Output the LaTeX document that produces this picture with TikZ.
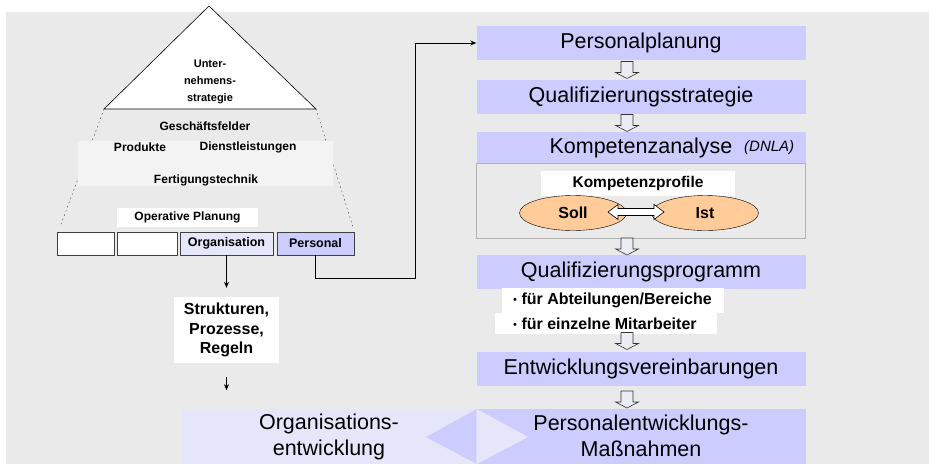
\documentclass[tikz,border=0pt]{standalone}
\usepackage{fontspec}
\setmainfont{Liberation Sans}
\usetikzlibrary{shapes.geometric,arrows.meta,positioning}
\definecolor{bggray}{HTML}{EAEAEA}
\definecolor{bandgray}{HTML}{F3F3F3}
\definecolor{lav}{HTML}{CCCCFF}
\definecolor{lightlav}{HTML}{E6E6FA}
\definecolor{peach}{HTML}{FFCC99}
\definecolor{arrowfill}{HTML}{ECECF4}
\newcommand{\hollowdown}[1]{\draw[hollow arrow,shift={(#1)}] (-6,-8.5) -- (6,-8.5) -- (6,2.5) -- (11.5,2.5) -- (0,8.5) -- (-11.5,2.5) -- (-6,2.5) -- cycle;}
\newcommand{\smallbullet}{{\fontsize{11}{12}\selectfont\mdseries\raisebox{1pt}{•}}}
\begin{document}
\begin{tikzpicture}[x=1pt,y=-1pt]
\tikzstyle{small label}=[font=\fontsize{12}{14}\selectfont\bfseries,inner sep=0]
\tikzstyle{mid label}=[font=\fontsize{16}{19.5}\selectfont\bfseries,inner sep=0]
\tikzstyle{big label}=[font=\fontsize{21.5}{26}\selectfont,inner sep=0,align=center]
\tikzset{
	plan box/.style={rectangle,fill=lav,minimum width=329pt,minimum height=34pt,inner sep=0,font=\fontsize{21.5}{26}\selectfont},
	unit box/.style={rectangle,draw=black!75,line width=0.8pt,minimum width=#1,minimum height=23pt,inner sep=0,font=\fontsize{12.5}{14}\selectfont\bfseries},
	white box/.style={rectangle,fill=white,inner sep=0},
	soll ist/.style={ellipse,draw,fill=peach,minimum width=107pt,minimum height=35pt,inner sep=0,font=\fontsize{16}{18}\selectfont\bfseries},
	con/.style={line width=0.8pt,-{Stealth[length=6pt,width=5pt]}},
	hollow arrow/.style={draw=black!80,fill=arrowfill,line width=0.6pt}
}
\useasboundingbox (0,0) rectangle (929,464);
\fill[bggray] (6,12) rectangle (929,464);

% pyramid
\coordinate (apex) at (209,6);
\coordinate (base left) at (104,109);
\coordinate (base right) at (316,109);
\draw[fill=white,line width=0.6pt] (apex) -- (base right) -- (base left) -- cycle;
\node[small label,font=\fontsize{11}{17}\selectfont\bfseries,align=center] (strategy) at (210,82) {Unter-\\nehmens-\\strategie};
\coordinate (foot left) at (60,227);
\coordinate (foot right) at (353,227);
\draw[black!80,dash pattern=on 1.5pt off 3pt] (base left) -- (foot left);
\draw[black!80,dash pattern=on 1.5pt off 3pt] (base right) -- (foot right);
\fill[bandgray] (78,141) rectangle (333,186);
\node[small label] (fields) at (205,126) {Geschäftsfelder};
\node[small label] (products) at (140,147) {Produkte};
\node[small label] (services) at (248,147) {Dienstleistungen};
\node[small label] (technics) at (206,180) {Fertigungstechnik};
\node[white box,small label,minimum width=141pt,minimum height=19pt] (operative) at (187.5,217.5) {Operative Planung};

% operative units
\node[unit box=57pt,fill=white] (unit1) at (85.5,243.5) {};
\node[unit box=60pt,fill=white] (unit2) at (147,243.5) {};
\node[unit box=93pt,fill=lightlav] (org) at (226.5,243.5) {Organisation};
\node[unit box=77pt,fill=lav] (pers) at (315.5,243.5) {Personal};
\node[white box,mid label,align=center,minimum width=105pt,minimum height=66pt] (struct) at (226.5,330) {Strukturen,\\Prozesse,\\Regeln};
\draw[con,shorten >=9pt] (org.south) -- (org.south |- struct.north);
\draw[con] (struct.south) ++(0,14) -- ++(0,13);

% right column
\node[plan box] (pplan) at (641,43) {Personalplanung};
\node[plan box] (qstrat) at (641,97) {Qualifizierungsstrategie};
\node[rectangle,draw=black!30,fill=bggray,minimum width=329pt,minimum height=75pt] (kbox) at (641,200.5) {};
\node[plan box,minimum height=31pt] (kanal) at (641,147.5) {Kompetenzanalyse};
\node[inner sep=0,anchor=west,font=\fontsize{15}{17}\selectfont\itshape] (dnla) at (744,148) {(DNLA)};
\node[white box,mid label,font=\fontsize{15.5}{18}\selectfont\bfseries,minimum width=194pt,minimum height=25pt] (profile) at (638,183.5) {Kompetenzprofile};
\node[soll ist] (soll) at (573,213) {Soll};
\node[soll ist] (ist) at (705,213) {Ist};
\coordinate (tip soll) at (608,212);
\coordinate (tip ist) at (664,212);
\draw[fill=white,line width=0.6pt] (tip soll) -- ++(10,-7.5) -- ++(0,4) -- ++(36,0) -- ++(0,-4) -- (tip ist)
	-- ++(-10,7.5) -- ++(0,-4) -- ++(-36,0) -- ++(0,4) -- cycle;
\node[plan box] (qprog) at (641,272) {Qualifizierungsprogramm};
\node[white box,minimum width=222pt,minimum height=25pt,anchor=north west] (dept) at (502,288) {};
\node[white box,minimum width=222pt,minimum height=21pt,anchor=north west] (staff) at (495,313) {};
\node[mid label,anchor=west] (dept text) at ([xshift=11pt]dept.west) {\smallbullet\ für Abteilungen/Bereiche};
\node[mid label,anchor=west] (staff text) at ([xshift=18pt]staff.west) {\smallbullet\ für einzelne Mitarbeiter};
\node[plan box] (entw) at (641,369) {Entwicklungsvereinbarungen};
\hollowdown{627,70}
\hollowdown{627,123}
\hollowdown{627,246.5}
\hollowdown{627,341}
\hollowdown{627,399.5}

% bottom
\node[rectangle,fill=lightlav,minimum width=295pt,minimum height=55pt,inner sep=0] (orgdev) at (329.5,436.5) {};
\node[rectangle,fill=lav,minimum width=329pt,minimum height=55pt,inner sep=0] (pedev) at (641,436.5) {};
\fill[lav] (426,437) -- (orgdev.north east) -- (orgdev.south east) -- cycle;
\fill[lightlav] (pedev.north west) -- (528,437) -- (pedev.south west) -- cycle;
\node[big label] (orgdev text) at (329,437) {Organisations-\\entwicklung};
\node[big label,text depth=0pt] (pedev text) at (641,436) {Personalentwicklungs-\\Maßnahmen};

% Personal -> Personalplanung
\coordinate (bend) at (415,278);
\draw[con] (pers.south) |- (bend) |- (pplan.west);
\end{tikzpicture}
\end{document}
